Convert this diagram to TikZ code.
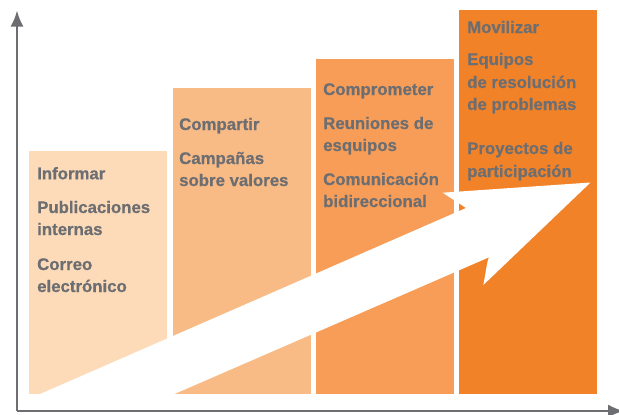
\documentclass[tikz,border=0pt]{standalone}
\usepackage{fontspec}
\setmainfont{Liberation Sans}[BoldFeatures={FakeBold=0.6}]
\usetikzlibrary{arrows.meta}
\definecolor{barA}{HTML}{FDDBB9}
\definecolor{barB}{HTML}{F9BB86}
\definecolor{barC}{HTML}{F79D58}
\definecolor{barD}{HTML}{F28227}
\definecolor{txtgray}{HTML}{6D6E71}
\tikzset{
  bar/.style={draw=none, inner sep=0pt, minimum width=138pt, anchor=south west},
  lbl/.style={text=txtgray, font=\fontsize{16.8}{22}\selectfont\bfseries, anchor=base west, inner sep=0pt},
  axis/.style={draw=txtgray, line width=2.2pt, -{Latex[length=16pt,width=13pt]}}
}
\begin{document}
\begin{tikzpicture}[x=1pt,y=-1pt]
\useasboundingbox (0,0) rectangle (619,415);
% bars
\node[bar, fill=barA, minimum height=243.3pt] (b1) at (29,394.3) {};
\node[bar, fill=barB, minimum height=306.3pt] (b2) at (172.5,394.3) {};
\node[bar, fill=barC, minimum height=335.3pt] (b3) at (316,394.3) {};
\node[bar, fill=barD, minimum height=384.3pt] (b4) at (459,394.3) {};
% white arrow
\fill[white] (39.5,394.3) -- (466,208.0) -- (442.7,192.7) -- (590.5,182.5) -- (483.3,285)
  .. controls (486,272) and (486.5,263) .. (489,257.3) -- (173.7,394.3) -- cycle;
% axes
\coordinate (o) at (17,411);
\coordinate (ytop) at (17,10.5);
\coordinate (xend) at (624,411);
\draw[axis] (o) -- (ytop);
\draw[axis] (o) -- (xend);
% bar 1 texts
\node[lbl] (t1a) at (37,179.3) {Informar};
\node[lbl] (t1b) at (37,213) {Publicaciones};
\node[lbl] (t1c) at (37,235) {internas};
\node[lbl] (t1d) at (37,270) {Correo};
\node[lbl] (t1e) at (37,292) {electrónico};
% bar 2 texts
\node[lbl] (t2a) at (179,130) {Compartir};
\node[lbl] (t2b) at (179,164) {Campañas};
\node[lbl] (t2c) at (179,186) {sobre valores};
% bar 3 texts
\node[lbl] (t3a) at (323,95) {Comprometer};
\node[lbl] (t3b) at (323,129) {Reuniones de};
\node[lbl] (t3c) at (323,151) {esquipos};
\node[lbl] (t3d) at (323,185) {Comunicación};
\node[lbl] (t3e) at (323,207) {bidireccional};
% bar 4 texts
\node[lbl] (t4a) at (467,33) {Movilizar};
\node[lbl] (t4b) at (467,65) {Equipos};
\node[lbl] (t4c) at (467,88) {de resolución};
\node[lbl] (t4d) at (467,110) {de problemas};
\node[lbl] (t4e) at (467,154) {Proyectos de};
\node[lbl] (t4f) at (467,177) {participación};
\end{tikzpicture}
\end{document}
